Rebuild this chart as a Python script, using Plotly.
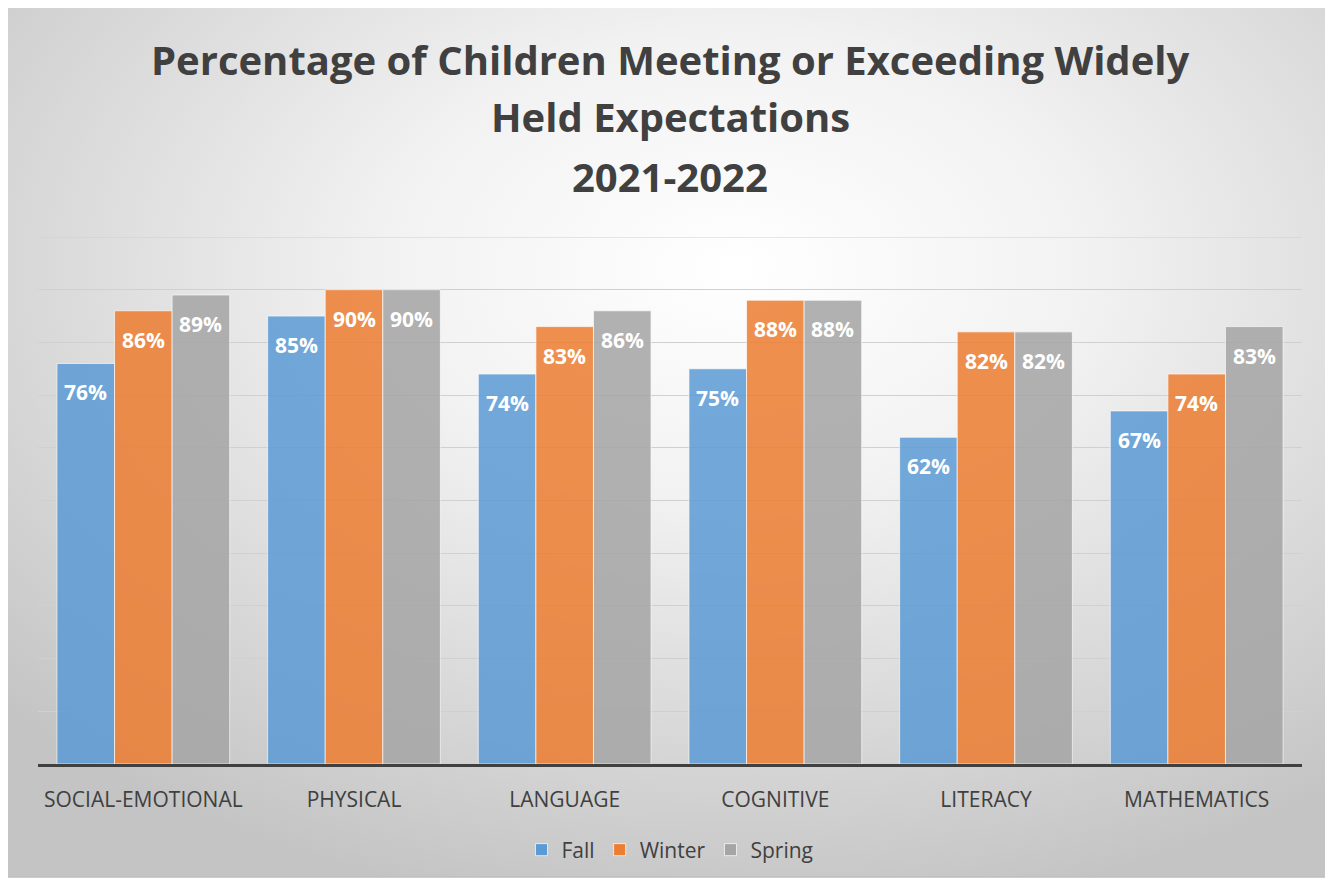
import base64
import plotly.graph_objects as go

categories = ["SOCIAL-EMOTIONAL", "PHYSICAL", "LANGUAGE", "COGNITIVE", "LITERACY", "MATHEMATICS"]
fall = [76, 85, 74, 75, 62, 67]
winter = [86, 90, 83, 88, 82, 74]
spring = [89, 90, 86, 88, 82, 83]
series_names = ["Fall", "Winter", "Spring"]
title_lines = ["Percentage of Children Meeting or Exceeding Widely", "Held Expectations", "2021-2022"]

colors = ["#5B9BD5", "#ED7D31", "#A5A5A5"]
OFF = 8  # default page body margin
W, H = 1333 - OFF, 883 - OFF
L, R, T, B = 38 - OFF, W - (1302 - OFF), 237 - OFF, H - (764 - OFF)
pw, ph = W - L - R, H - T - B

def py(px):  # window pixel y -> paper y
    return (H - B - (px - OFF)) / ph

def pxx(px):
    return (px - OFF - L) / pw

svg = f'''<svg xmlns="http://www.w3.org/2000/svg" width="{W}" height="{H}" viewBox="0 0 100 100" preserveAspectRatio="none">
<defs><radialGradient id="g" cx="0.55" cy="0.3" r="0.75" fx="0.55" fy="0.3">
<stop offset="0" stop-color="#ffffff"/><stop offset="0.35" stop-color="#f2f2f2"/><stop offset="1" stop-color="#c4c4c4"/></radialGradient></defs>
<rect x="0" y="0" width="100" height="100" fill="url(#g)"/></svg>'''
src = "data:image/svg+xml;base64," + base64.b64encode(svg.encode()).decode()

fig = go.Figure()
all_vals = [fall, winter, spring]
for name, vals, c in zip(series_names, all_vals, colors):
    fig.add_trace(go.Bar(
        x=categories, y=vals, name=name,
        marker=dict(color=c, opacity=0.85, line=dict(color="rgba(255,255,255,0.7)", width=1)),
    ))

bar_w = pw / len(categories) * (1 - 0.18) / 3
for i, vals in enumerate(all_vals):
    for cat, v in zip(categories, vals):
        fig.add_annotation(x=cat, y=v, xref="x", yref="y", text=f"<b>{v}%</b>",
                           showarrow=False, xshift=(i - 1) * bar_w, yshift=-29,
                           font=dict(family="Open Sans", size=21, color="white"))

ys = [60, 117, 176]
for line, yy in zip(title_lines, ys):
    fig.add_annotation(x=0.5, y=py(yy), xref="paper", yref="paper", text=f"<b>{line}</b>",
                       showarrow=False, yanchor="middle", xanchor="center",
                       font=dict(family="Open Sans", size=40, color="#404040"))

fig.add_layout_image(source=src, xref="paper", yref="paper", x=pxx(7), y=py(7),
                     sizex=(1333 - 7) / pw, sizey=(877 - 7) / ph, sizing="stretch",
                     xanchor="left", yanchor="top", layer="below")
fig.add_shape(type="rect", xref="paper", yref="paper", x0=pxx(7), x1=pxx(1345), y0=py(7), y1=py(877),
              line=dict(color="#bdbdbd", width=1.5), fillcolor="rgba(0,0,0,0)", layer="below")
fig.add_shape(type="line", xref="paper", yref="y", x0=0, x1=1, y0=100, y1=100,
              line=dict(color="#d0d0d0", width=1), layer="below")

fig.update_layout(
    width=W, height=H,
    margin=dict(l=L, r=R, t=T, b=B),
    paper_bgcolor="white", plot_bgcolor="rgba(0,0,0,0)",
    barmode="group", bargap=0.18, bargroupgap=0,
    showlegend=True,
    legend=dict(orientation="h", x=0.5, xanchor="center", y=py(850), yanchor="middle",
                font=dict(family="Open Sans", size=21, color="#404040"), bgcolor="rgba(0,0,0,0)",
                itemwidth=30),
    xaxis=dict(showline=True, linecolor="#404040", linewidth=3, showgrid=False,
               tickfont=dict(family="Open Sans", size=21, color="#404040"), ticks="",
               ticklabelstandoff=15, fixedrange=True),
    yaxis=dict(range=[0, 100], dtick=10, showgrid=True, gridcolor="#d0d0d0", gridwidth=1,
               showticklabels=False, zeroline=False, showline=False, fixedrange=True),
    font=dict(family="Open Sans", color="#404040"),
)

fig.write_html("out.html")
